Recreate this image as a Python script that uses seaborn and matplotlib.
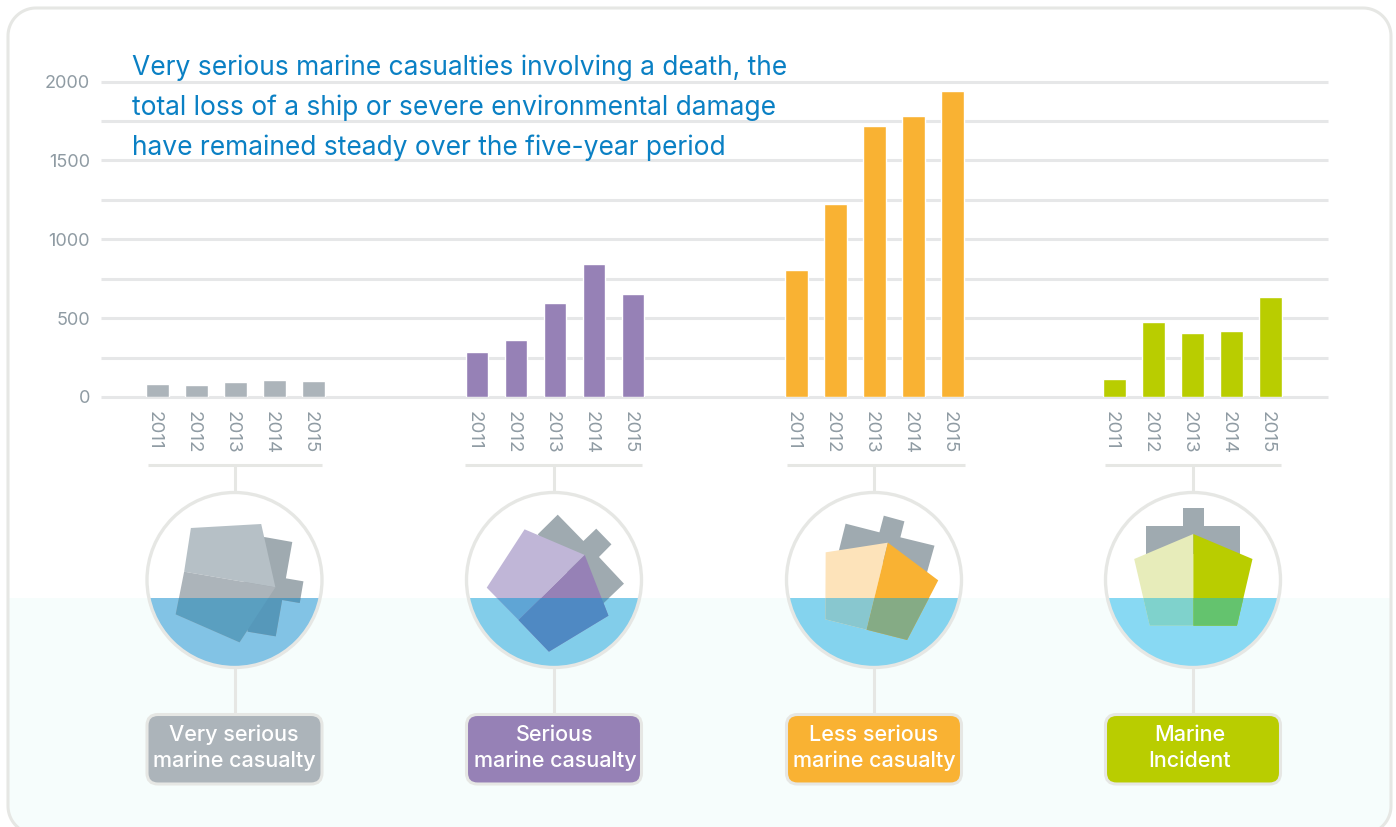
#!/usr/bin/env python3
# marine casualties per category, 2011-2015

import matplotlib
matplotlib.use('Agg')
import matplotlib.pyplot as plt
from matplotlib.patches import Circle, FancyBboxPatch, Polygon, Rectangle
from matplotlib.transforms import ScaledTranslation
import numpy as np
import seaborn as sns

# data
years = ['2011', '2012', '2013', '2014', '2015']
very_serious = [84, 78, 96, 108, 102]
serious = [286, 362, 593, 840, 650]
less_serious = [808, 1226, 1720, 1784, 1937]
incident = [115, 478, 408, 420, 631]

y_ticks = [0, 250, 500, 750, 1000, 1250, 1500, 1750, 2000]
y_labels = ['0', '', '500', '', '1000', '', '1500', '', '2000']

title_lines = ['Very serious marine casualties involving a death, the',
               'total loss of a ship or severe environmental damage',
               'have remained steady over the five-year period']

W, H = 1396, 827
GRID = '#e6e7e8'
LINE = '#e6e7e4'
TICK = '#8f9ba3'
WATER_Y = 598

# ship outlines in sketch units (1/3 px), with the sketch position of the circle centre
ship_1 = dict(origin=(311, 300), water='#82c3e5', parts=[
    ([(399, 171), (482, 186), (463, 295), (515, 304), (504, 369), (452, 360), (433, 469), (350, 455), (340, 300)], '#9faab0', '#5698ba'),
    ([(182, 144), (390, 132), (432, 322), (162, 275)], '#b6c0c6', '#5a9fc0'),
    ([(162, 275), (432, 322), (326, 487), (137, 403)], '#acb4ba', '#5a9fc0'),
])
ship_2 = dict(origin=(1255, 300), water='#82cdea', parts=[
    ([(1266, 104), (1342, 183), (1380, 146), (1425, 193), (1388, 231), (1462, 311), (1380, 390), (1207, 163)], '#9faab0', '#5a9cc0'),
    ([(1168, 148), (1346, 225), (1150, 420), (1056, 323)], '#c0b6d7', '#5fa5d5'),
    ([(1346, 225), (1416, 407), (1240, 515), (1150, 420)], '#9681b6', '#4f89c3'),
])
ship_3 = dict(origin=(309, 300), water='#84d3ee', parts=[
    ([(225, 131), (325, 157), (338, 107), (399, 124), (387, 172), (488, 197), (465, 280), (205, 212)], '#9faab0', '#5a9cc0'),
    ([(166, 217), (350, 188), (287, 449), (165, 418)], '#fde3ba', '#88c7cf'),
    ([(350, 188), (499, 301), (407, 480), (287, 449)], '#f9b233', '#85ab85'),
])
ship_4 = dict(origin=(1252, 300), water='#88d9f3', parts=[
    ([(1114, 137), (1221, 137), (1221, 85), (1286, 85), (1286, 137), (1392, 137), (1392, 222), (1114, 222)], '#9faab0', '#5a9cc0'),
    ([(1253, 162), (1253, 437), (1124, 437), (1078, 237)], '#e7ecba', '#7fd2cc'),
    ([(1253, 162), (1428, 237), (1382, 437), (1253, 437)], '#b9cd00', '#64c36e'),
])

# one entry per column of the chart
groups = [
    dict(values=very_serious, color='#acb4ba', cx=234.5, bar_cx=235.5, span=(148, 322), label='Very serious\nmarine casualty', text_x=234, ship=ship_1),
    dict(values=serious, color='#9681b6', cx=554, bar_cx=555, span=(465, 642), label='Serious\nmarine casualty', text_x=555, ship=ship_2),
    dict(values=less_serious, color='#f9b233', cx=874, bar_cx=874.5, span=(787, 965), label='Less serious\nmarine casualty', text_x=874, ship=ship_3),
    dict(values=incident, color='#b9cd00', cx=1193, bar_cx=1192.5, span=(1105, 1281), label='Marine\nIncident', text_x=1190, ship=ship_4),
]


def px_axes(fig, x0, x1, top, bottom):
    # axes from pixel positions of the final picture
    return fig.add_axes([x0 / W, 1 - bottom / H, (x1 - x0) / W, (bottom - top) / H])


def frame_outline(x0, x1, top, bottom, r):
    # rounded rectangle as plain points, bezier corners go wrong past the canvas edge
    pts = []
    corners = [(x0 + r, top + r, 180), (x1 - r, top + r, 270), (x1 - r, bottom - r, 0), (x0 + r, bottom - r, 90)]
    for cx, cy, start in corners:
        t = np.radians(np.linspace(start, start + 90, 24))
        pts += list(zip(cx + r * np.cos(t), cy + r * np.sin(t)))
    return pts


def draw_ship(ax, ship, cx, cy):
    ox, oy = ship['origin']
    water_clip = Rectangle((0, WATER_Y), W, H, transform=ax.transData)
    for pts, color, wet_color in ship['parts']:
        xy = [(cx + (x - ox) * 0.338, cy + (y - oy) / 3) for x, y in pts]
        ax.add_patch(Polygon(xy, closed=True, fc=color, ec='none', zorder=4))
        wet = ax.add_patch(Polygon(xy, closed=True, fc=wet_color, ec='none', zorder=5))
        wet.set_clip_path(water_clip)


def main():
    sns.set_theme(style='white')
    plt.rcParams['font.family'] = ['Inter', 'DejaVu Sans']

    fig = plt.figure(figsize=(W / 100, H / 100), dpi=100, facecolor='white')

    # background layer in pixel units: frame, water band, ships, labels
    bg = fig.add_axes([0, 0, 1, 1], zorder=0)
    bg.set_xlim(0, W)
    bg.set_ylim(H, 0)
    bg.axis('off')

    # the frame runs off the bottom edge of the picture
    outline = frame_outline(8, 1391, 8, 834, 28)
    frame = bg.add_patch(Polygon(outline, closed=True, fc='white', ec='none', zorder=1))
    band = bg.add_patch(Rectangle((0, WATER_Y), W, H - WATER_Y, fc='#f6fdfc', ec='none', zorder=1))
    band.set_clip_path(frame)
    bg.add_patch(Polygon(outline, closed=True, fc='none', ec=LINE, lw=2.2, zorder=2))

    cy = 580
    for g in groups:
        x0, x1 = g['span']
        bg.plot([x0, x1], [465, 465], color=LINE, lw=2.2, solid_capstyle='butt', zorder=2)
        bg.plot([g['cx'], g['cx']], [465, 713], color=LINE, lw=2.2, solid_capstyle='butt', zorder=2)

        bg.add_patch(Circle((g['cx'], cy), 87.5, fc='white', ec='none', zorder=3))
        water = bg.add_patch(Circle((g['cx'], cy), 87.5, fc=g['ship']['water'], ec='none', zorder=3))
        water.set_clip_path(Rectangle((0, WATER_Y), W, H, transform=bg.transData))
        draw_ship(bg, g['ship'], g['cx'], cy)
        bg.add_patch(Circle((g['cx'], cy), 87.5, fc='none', ec=LINE, lw=2.4, zorder=6))

        bg.add_patch(FancyBboxPatch((g['cx'] - 87.5, 714.5), 175, 69.5,
                                    boxstyle='round,pad=0,rounding_size=11',
                                    fc=g['color'], ec=LINE, lw=2.2, zorder=6))
        top, bottom = g['label'].split('\n')
        bg.text(g['text_x'], 735, top, color='white', fontsize=15.5, fontweight='medium',
                ha='center', va='center', zorder=7)
        bg.text(g['text_x'], 761, bottom, color='white', fontsize=15.5, fontweight='medium',
                ha='center', va='center', zorder=7)

    # value axis and grid
    grid_ax = px_axes(fig, 101, 1328, 81.5, 397)
    grid_ax.set_zorder(1)
    grid_ax.patch.set_alpha(0)
    grid_ax.set_ylim(0, 2000)
    grid_ax.set_xticks([])
    grid_ax.set_yticks(y_ticks)
    grid_ax.set_yticklabels(y_labels)
    grid_ax.tick_params(axis='y', length=0, pad=8, labelsize=13, labelcolor=TICK)
    grid_ax.grid(axis='y', color=GRID, lw=2.2)
    for gl in grid_ax.get_ygridlines():
        gl.set_clip_on(False)
        gl.set_solid_capstyle('butt')
    sns.despine(ax=grid_ax, left=True, bottom=True)

    # one small bar axes per category, all on the same value scale
    nudge = ScaledTranslation(-3 / 100, 0, fig.dpi_scale_trans)
    for i, g in enumerate(groups):
        ax = px_axes(fig, g['bar_cx'] - 97.5, g['bar_cx'] + 97.5, 81.5, 397)
        ax.set_zorder(2 + i)
        ax.patch.set_alpha(0)
        sns.barplot(x=years, y=g['values'], color=g['color'], saturation=1, width=0.57, ax=ax)
        ax.set_ylim(0, 2000)
        ax.set_yticks([])
        ax.set_xlabel('')
        ax.set_ylabel('')
        ax.tick_params(axis='x', length=0, pad=10, labelsize=13.5, labelcolor=TICK, labelrotation=-90)
        for lab in ax.get_xticklabels():
            lab.set_transform(lab.get_transform() + nudge)
        sns.despine(ax=ax, left=True, bottom=True)

    for line, y in zip(title_lines, [68, 108, 148]):
        fig.text(132 / W, 1 - y / H, line, color='#0a80c4', fontsize=19, ha='left', va='center',
                 zorder=20)

    fig.savefig('out.png', dpi=100)
    plt.close(fig)


if __name__ == '__main__':
    main()
